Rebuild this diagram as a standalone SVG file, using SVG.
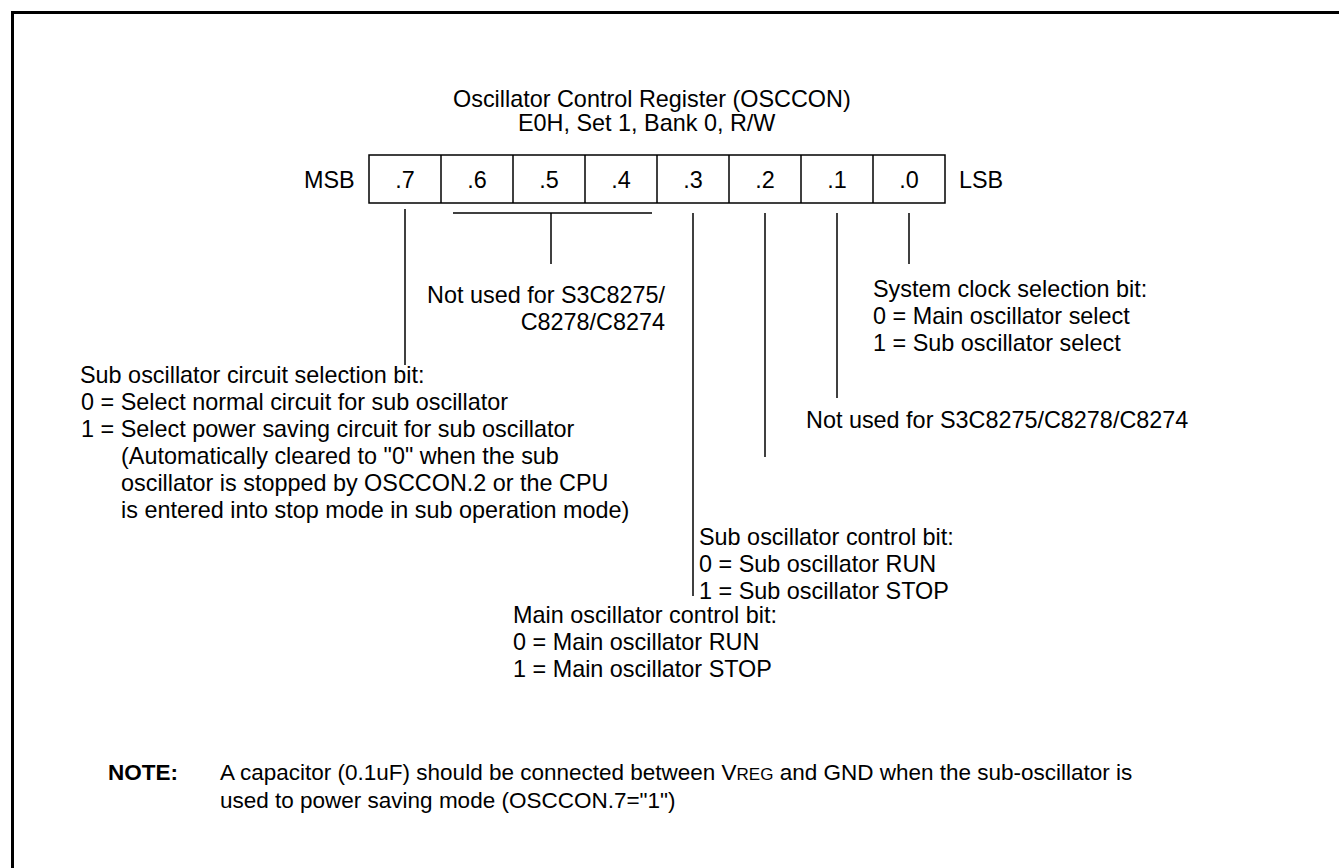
<svg xmlns="http://www.w3.org/2000/svg" width="1339" height="868" viewBox="0 0 1339 868">
<style>
text{font-family:"Liberation Sans",Arial,sans-serif;font-size:23.4px;fill:#000}
.c{text-anchor:middle}
.e{text-anchor:end}
.b{font-weight:bold}
.n{font-size:22.5px}
line,rect.cell{stroke:#000;stroke-width:1.5;fill:none}
</style>
<rect x="12.5" y="12.5" width="1340" height="870" fill="#fff" stroke="#000" stroke-width="3"/>
<g id="title">
<text x="453" y="107">Oscillator Control Register (OSCCON)</text>
<text x="518" y="131">E0H, Set 1, Bank 0, R/W</text>
</g>
<g id="register">
<text x="304" y="188">MSB</text>
<rect class="cell" x="369" y="155" width="576" height="48"/>
<line x1="441" y1="155" x2="441" y2="203"/>
<line x1="513" y1="155" x2="513" y2="203"/>
<line x1="585" y1="155" x2="585" y2="203"/>
<line x1="657" y1="155" x2="657" y2="203"/>
<line x1="729" y1="155" x2="729" y2="203"/>
<line x1="801" y1="155" x2="801" y2="203"/>
<line x1="873" y1="155" x2="873" y2="203"/>
<text class="c" x="405" y="188">.7</text>
<text class="c" x="477" y="188">.6</text>
<text class="c" x="549" y="188">.5</text>
<text class="c" x="621" y="188">.4</text>
<text class="c" x="693" y="188">.3</text>
<text class="c" x="765" y="188">.2</text>
<text class="c" x="837" y="188">.1</text>
<text class="c" x="909" y="188">.0</text>
<text x="959" y="188">LSB</text>
</g>
<g id="connectors">
<line x1="405" y1="209" x2="405" y2="365"/>
<line x1="453" y1="213" x2="652" y2="213"/>
<line x1="551" y1="213" x2="551" y2="264"/>
<line x1="693" y1="213" x2="693" y2="596"/>
<line x1="765" y1="213" x2="765" y2="457"/>
<line x1="837" y1="213" x2="837" y2="398"/>
<line x1="909" y1="213" x2="909" y2="264"/>
</g>
<g id="bits654">
<text class="e" x="665" y="303">Not used for S3C8275/</text>
<text class="e" x="665" y="330">C8278/C8274</text>
</g>
<g id="bit0">
<text x="873" y="297">System clock selection bit:</text>
<text x="873" y="324">0 = Main oscillator select</text>
<text x="873" y="351">1 = Sub oscillator select</text>
</g>
<g id="bit1">
<text x="806" y="428">Not used for S3C8275/C8278/C8274</text>
</g>
<g id="bit7">
<text x="80" y="383">Sub oscillator circuit selection bit:</text>
<text x="81" y="410">0 = Select normal circuit for sub oscillator</text>
<text x="81" y="437">1 = Select power saving circuit for sub oscillator</text>
<text x="121" y="464">(Automatically cleared to "0" when the sub</text>
<text x="121" y="491">oscillator is stopped by OSCCON.2 or the CPU</text>
<text x="121" y="518">is entered into stop mode in sub operation mode)</text>
</g>
<g id="bit2">
<text x="699" y="545">Sub oscillator control bit:</text>
<text x="699" y="572">0 = Sub oscillator RUN</text>
<text x="699" y="599">1 = Sub oscillator STOP</text>
</g>
<g id="bit3">
<text x="513" y="623">Main oscillator control bit:</text>
<text x="513" y="650">0 = Main oscillator RUN</text>
<text x="513" y="677">1 = Main oscillator STOP</text>
</g>
<g id="note">
<text class="b n" x="108" y="780">NOTE:</text>
<text class="n" x="220" y="780">A capacitor (0.1uF) should be connected between V<tspan font-size="17">REG</tspan> and GND when the sub-oscillator is</text>
<text class="n" x="220" y="808">used to power saving mode (OSCCON.7="1")</text>
</g>
</svg>
